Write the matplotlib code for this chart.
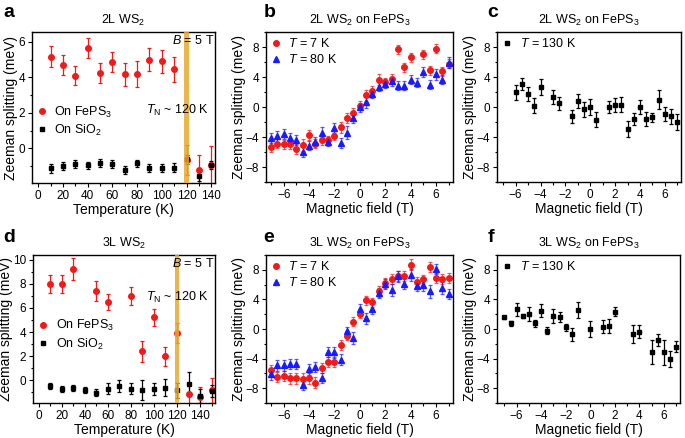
import numpy as np
import matplotlib
matplotlib.use('Agg')
import matplotlib.pyplot as plt
from matplotlib.ticker import MultipleLocator
from matplotlib.lines import Line2D

plt.rcParams['font.family'] = ['Liberation Sans', 'DejaVu Sans']
plt.rcParams['mathtext.fontset'] = 'custom'
plt.rcParams['mathtext.rm'] = 'Liberation Sans'
plt.rcParams['mathtext.it'] = 'Liberation Sans:italic'

nan = np.nan

# ── panel a: 2L WS2, B = 5 T ───────────────────────────────────────────────
T_a = [10, 20, 30, 40, 50, 60, 70, 80, 90, 100, 110, 120, 130, 140]
a_fe = [5.16, 4.69, 4.09, 5.66, 4.26, 4.86, 4.18, 4.18, 5.0, 4.91, 4.46, -0.66, -1.22, -0.94]
a_fe_err = [0.6, 0.58, 0.52, 0.55, 0.56, 0.55, 0.65, 0.75, 0.63, 0.64, 0.7, 0.85, 0.85, 1.1]
a_si = [-1.12, -1.0, -0.9, -0.96, -0.83, -0.9, -1.22, -0.84, -1.09, -1.09, -1.09, -0.62, -1.56, -0.94]
a_si_err = [0.25, 0.22, 0.22, 0.22, 0.22, 0.22, 0.22, 0.2, 0.22, 0.22, 0.25, 0.25, 0.3, 0.25]

# ── panel d: 3L WS2, B = 5 T ───────────────────────────────────────────────
T_d_fe = [10, 20, 30, 50, 60, 80, 90, 100, 110, 120, 130, 140, 150]
d_fe = [7.98, 7.98, 9.25, 7.43, 6.46, 6.96, 2.4, 5.22, 1.99, 3.92, -1.13, -1.41, -0.86]
d_fe_err = [0.75, 0.72, 0.9, 0.85, 0.67, 0.75, 0.88, 0.68, 0.8, 0.82, 0.9, 0.85, 1.0]
T_d_si = [10, 20, 30, 40, 50, 60, 70, 80, 90, 100, 110, 120, 130, 140, 150]
d_si = [-0.5, -0.72, -0.64, -0.83, -1.05, -0.72, -0.5, -0.72, -0.83, -0.72, -0.64, -0.86, -0.3, -1.33, -0.91]
d_si_err = [0.25, 0.25, 0.25, 0.25, 0.3, 0.45, 0.5, 0.45, 0.8, 0.5, 0.7, 0.6, 1.0, 0.6, 0.5]

# ── field sweeps ────────────────────────────────────────────────────────────
B = [-7, -6.5, -6, -5.5, -5, -4.5, -4, -3.5, -3, -2.5, -2, -1.5, -1, -0.5, 0,
     0.5, 1, 1.5, 2, 2.5, 3, 3.5, 4, 4.5, 5, 5.5, 6, 6.5, 7]

# panel b: 2L on FePS3
b_7K = [-5.27, -4.9, -4.96, -4.96, -5.6, -5.05, -3.7, -4.9, -4.4, -4.4, -3.85, -2.73, -1.47, -0.8, 0.18,
        1.56, 2.19, 3.66, 3.3, 3.8, 7.69, 5.32, 6.66, nan, 7.02, 4.92, 7.78, 4.78, 5.77]
b_80K = [-4.16, -3.93, -3.62, -4.07, -4.38, -5.94, -5.14, -4.6, -3.4, -4.6, -2.82, -4.83, -3.4, -1.47, 0.0,
         0.63, 1.74, 2.68, 3.08, 3.44, 2.86, 2.86, 3.66, 3.22, 4.65, 3.0, 4.34, 3.66, 5.9]
b_7K_err = [0.7, 0.6, 0.6, 0.6, 0.7, 0.75, 0.7, 0.6, 0.6, 0.6, 0.6, 0.7, 0.7, 0.7, 0.6,
            0.75, 0.6, 0.7, 0.6, 0.6, 0.6, 0.6, 0.6, 0.6, 0.6, 0.6, 0.6, 0.6, 0.6]
b_80K_err = [0.7, 0.7, 0.7, 0.6, 0.7, 0.7, 0.6, 0.6, 0.7, 0.6, 0.7, 0.7, 0.9, 0.7, 0.6,
             0.7, 0.6, 0.6, 0.6, 0.6, 0.6, 0.6, 0.6, 0.6, 0.7, 0.6, 0.7, 0.6, 0.7]

# panel e: 3L on FePS3
e_7K = [-5.6, -6.49, -6.36, -6.67, -6.67, -6.71, -6.67, -7.24, -5.24, -4.49, -4.49, -2.13, -0.93, 0.98, 2.09,
        3.87, 3.64, 5.07, 6.18, 6.76, 7.2, 7.2, 8.71, 6.4, 6.76, 8.4, 6.89, 6.76, 6.89]
e_80K = [-6.13, -4.93, -4.93, -4.71, -4.71, -7.56, -5.47, -5.16, -6.58, -3.11, -3.16, -4.13, -0.27, -1.16, 2.76,
         1.42, 2.76, 4.84, 6.09, 5.29, 7.11, 6.09, 7.33, 5.87, 5.96, 5.07, 8.09, 5.56, 4.76]
e_7K_err = [0.7, 0.7, 0.7, 0.7, 0.7, 0.7, 0.7, 0.7, 0.7, 0.7, 0.7, 0.7, 0.6, 0.6, 0.6,
            0.6, 0.6, 0.7, 0.7, 0.7, 0.7, 0.7, 0.7, 0.6, 0.6, 0.7, 0.7, 0.7, 0.7]
e_80K_err = [0.7, 0.7, 0.7, 0.7, 0.7, 0.7, 0.7, 0.7, 0.7, 0.7, 0.7, 0.7, 0.6, 0.8, 0.6,
             0.8, 0.8, 0.7, 0.7, 0.8, 0.7, 0.7, 0.8, 0.7, 0.8, 0.9, 0.7, 0.8, 0.7]

# panel c: 2L, T = 130 K
B_c = [-6, -5.5, -5, -4.5, -4, -3, -2.5, -1.5, -1, -0.5, 0, 0.5,
       1.5, 2, 2.5, 3, 3.5, 4, 4.5, 5, 5.5, 6, 6.5, 7]
c_130K = [1.97, 3.13, 1.74, 0.18, 2.68, 1.34, 0.49, -1.25, 0.85, -0.27, 0.0, -1.7,
          0.0, 0.31, 0.31, -2.95, -1.6, 0.0, -1.6, -1.34, 0.98, -0.94, -1.25, -1.97]
c_err = [1.0, 0.8, 0.9, 1.0, 1.1, 0.95, 0.9, 0.9, 0.95, 1.0, 1.1, 1.0,
         0.85, 0.95, 1.0, 1.1, 0.8, 0.9, 0.9, 0.6, 1.3, 0.95, 0.95, 1.1]

# panel f: 3L, T = 130 K
B_f = [-7, -6.5, -6, -5.5, -5, -4.5, -4, -3.5, -3, -2.5, -2, -1.5, -1, 0,
       1, 1.5, 2, 3.5, 4, 5, 5.5, 6, 6.5, 7]
f_130K = [1.56, 0.76, 2.64, 1.74, 2.01, 0.76, 2.46, -0.22, 1.74, 1.65, 0.22, -0.72, 2.55, -0.04,
          0.31, 0.4, 2.32, -0.67, -0.36, -3.13, -1.47, -3.17, -4.07, -2.37]
f_err = [0.2, 0.3, 0.9, 0.3, 0.9, 0.5, 0.9, 0.5, 0.9, 0.7, 0.5, 0.9, 1.1, 1.1,
         0.9, 0.9, 0.6, 1.2, 0.9, 1.6, 0.8, 1.7, 1.1, 0.8]

RED = '#f01a1a'
BLUE = '#1a1aff'
BAND = '#e9a930'

W, H = 685, 438
fig = plt.figure(figsize=(W / 100, H / 100), dpi=100)


def add_ax(left, top, right, bottom):
    return fig.add_axes([left / W, 1 - bottom / H, (right - left) / W, (bottom - top) / H])


def letter(txt, x, y):
    # x, y in pixels from top-left, y = baseline
    fig.text(x / W, 1 - y / H, txt, fontsize=14, fontweight='bold', va='baseline', ha='left')


def style(ax, xmaj, xmin, ymaj, ymin):
    ax.xaxis.set_major_locator(MultipleLocator(xmaj))
    ax.xaxis.set_minor_locator(MultipleLocator(xmin))
    ax.yaxis.set_major_locator(MultipleLocator(ymaj))
    ax.yaxis.set_minor_locator(MultipleLocator(ymin))
    ax.tick_params(which='both', direction='out', top=False, right=False,
                   labelsize=8.5, width=0.8, pad=2)
    ax.tick_params(which='major', length=3)
    ax.tick_params(which='minor', length=1.8)
    for s in ax.spines.values():
        s.set_linewidth(1.0)
    ax.set_ylabel('Zeeman splitting (meV)', fontsize=10, labelpad=0)


ekw = dict(linestyle='none', capsize=1.6, elinewidth=0.9, capthick=0.9)
legkw = dict(frameon=False, fontsize=9, handlelength=0.8, handletextpad=0.6,
             labelspacing=0.25, borderpad=0.2, borderaxespad=0.2)


def mk(marker, color, ms, label):
    return Line2D([], [], linestyle='none', marker=marker, color=color, ms=ms, label=label)


def temp_panel(ax, Tfe, fe, fe_err, Tsi, si, si_err, title, yl, tn_y):
    ax.errorbar(Tfe, fe, yerr=fe_err, marker='o', ms=4, color=RED, **ekw)
    ax.errorbar(Tsi, si, yerr=si_err, marker='s', ms=3.2, color='black', **ekw)
    ax.axvspan(118, 122, color=BAND, alpha=0.85, lw=0, zorder=5)
    ax.set_ylim(*yl)
    ax.set_xlabel('Temperature (K)', fontsize=10, labelpad=1)
    ax.set_title(title, fontsize=9, pad=6)
    ax.text(0.995, 0.945, '$B$ = 5 T', transform=ax.transAxes, ha='right', va='center', fontsize=9, zorder=6)
    ax.text(0.965, tn_y, '$T_\\mathrm{N}$ ~ 120 K', transform=ax.transAxes, ha='right', va='center',
            fontsize=9, zorder=6)


def field_panel(ax, title):
    ax.set_xlim(-7.4, 7.35)
    ax.set_ylim(-10, 10)
    style(ax, 2, 1, 4, 2)
    ax.set_xlabel('Magnetic field (T)', fontsize=10, labelpad=1)
    ax.set_title(title, fontsize=9, pad=6)


# row 1
ax_a = add_ax(32, 32, 215, 183)
ax_a.set_xlim(-5, 143)
style(ax_a, 20, 10, 2, 1)
temp_panel(ax_a, T_a, a_fe, a_fe_err, T_a, a_si, a_si_err, '2L WS$_2$', (-1.95, 6.55), 0.48)
ax_a.legend(handles=[mk('o', RED, 4, 'On FePS$_3$'), mk('s', 'black', 3.2, 'On SiO$_2$')],
            loc='center left', bbox_to_anchor=(0.0, 0.41), **legkw)

ax_b = add_ax(266, 32, 453, 182)
ax_b.errorbar(B, b_7K, yerr=b_7K_err, marker='o', ms=4, color=RED, ecolor=(0.94, 0.1, 0.1, 0.7), **ekw)
ax_b.errorbar(B, b_80K, yerr=b_80K_err, marker='^', ms=4.5, color=BLUE, ecolor=(0.1, 0.1, 1.0, 0.7), **ekw)
field_panel(ax_b, '2L WS$_2$ on FePS$_3$')
ax_b.legend(handles=[mk('o', RED, 4, '$T$ = 7 K'), mk('^', BLUE, 4.5, '$T$ = 80 K')],
            loc='upper left', **legkw)

ax_c = add_ax(497, 32, 681, 182)
ax_c.errorbar(B_c, c_130K, yerr=c_err, marker='s', ms=3.2, color='black', **ekw)
field_panel(ax_c, '2L WS$_2$ on FePS$_3$')
ax_c.set_xlim(-7.5, 7.3)
ax_c.legend(handles=[mk('s', 'black', 3.2, '$T$ = 130 K')], loc='upper left', **legkw)

# row 2
ax_d = add_ax(33, 255, 215, 403)
ax_d.set_xlim(-5, 153)
style(ax_d, 20, 10, 2, 1)
temp_panel(ax_d, T_d_fe, d_fe, d_fe_err, T_d_si, d_si, d_si_err, '3L WS$_2$', (-1.9, 10.4), 0.71)
ax_d.legend(handles=[mk('o', RED, 4, 'On FePS$_3$'), mk('s', 'black', 3.2, 'On SiO$_2$')],
            loc='center left', bbox_to_anchor=(0.0, 0.46), **legkw)

ax_e = add_ax(266, 255, 453, 403)
ax_e.errorbar(B, e_7K, yerr=e_7K_err, marker='o', ms=4, color=RED, ecolor=(0.94, 0.1, 0.1, 0.7), **ekw)
ax_e.errorbar(B, e_80K, yerr=e_80K_err, marker='^', ms=4.5, color=BLUE, ecolor=(0.1, 0.1, 1.0, 0.7), **ekw)
field_panel(ax_e, '3L WS$_2$ on FePS$_3$')
ax_e.legend(handles=[mk('o', RED, 4, '$T$ = 7 K'), mk('^', BLUE, 4.5, '$T$ = 80 K')],
            loc='upper left', **legkw)

ax_f = add_ax(497, 255, 680, 403)
ax_f.errorbar(B_f, f_130K, yerr=f_err, marker='s', ms=3.2, color='black', **ekw)
field_panel(ax_f, '3L WS$_2$ on FePS$_3$')
ax_f.set_xlim(-7.6, 7.3)
ax_f.legend(handles=[mk('s', 'black', 3.2, '$T$ = 130 K')], loc='upper left', **legkw)

# panel letters
letter('a', 3, 17)
letter('b', 264, 17)
letter('c', 487, 17)
letter('d', 3, 242)
letter('e', 263, 242)
letter('f', 488, 242)

fig.savefig('out.png', dpi=100)
